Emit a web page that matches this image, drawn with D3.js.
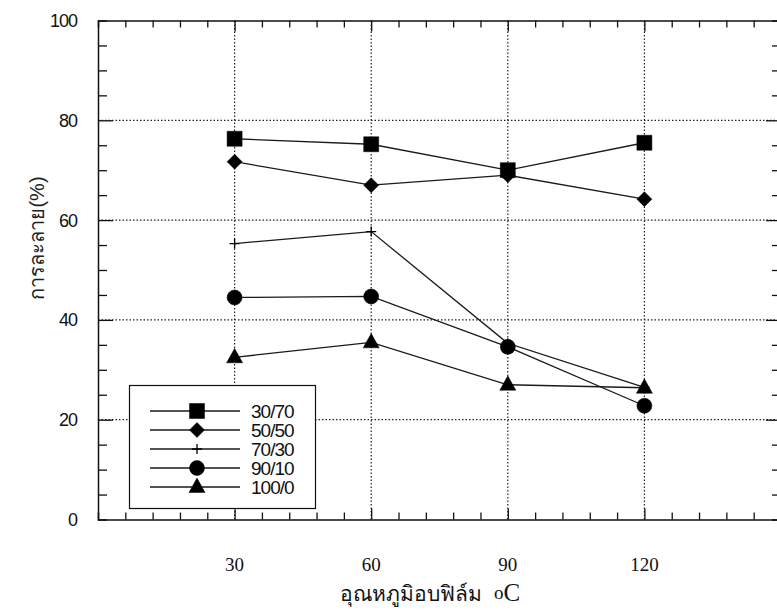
<!DOCTYPE html>
<html>
<head>
<meta charset="utf-8">
<script src="https://cdn.jsdelivr.net/npm/d3@7"></script>
<style>
  html, body { margin: 0; padding: 0; background: #fff; }
  svg { display: block; }
</style>
</head>
<body>
<svg id="chart" width="777" height="611"></svg>
<script>
// Dissolution (%) of films dried at different temperatures, one series per blend ratio
const temps = [30, 60, 90, 120];
const seriesNames = ["30/70", "50/50", "70/30", "90/10", "100/0"];
const s3070 = [76.3, 75.2, 70.0, 75.5];
const s5050 = [71.7, 67.0, 69.0, 64.2];
const s7030 = [55.3, 57.7, 35.3, 26.5];
const s9010 = [44.5, 44.7, 34.6, 22.8];
const s1000 = [32.5, 35.5, 27.0, 26.4];
const xTicks = [30, 60, 90, 120];
const yTicks = [0, 20, 40, 60, 80, 100];
const xTitle = "อุณหภูมิอบฟิล์ม";
const xUnit = "oC";
const yTitle = "การละลาย(%)";

const seriesValues = [s3070, s5050, s7030, s9010, s1000];

const svg = d3.select("#chart");
const x = d3.scaleLinear().domain([0, 150]).range([98, 781]);
const y = d3.scaleLinear().domain([0, 100]).range([519.5, 20.5]);
const [x0, x1] = x.range();
const [y0, y1] = y.range();

// Custom marker shapes (size = full width in px)
const shapes = {
  square: { draw(c, s) { const h = s / 2; c.rect(-h, -h, s, s); } },
  diamond: { draw(c, s) { const h = s / 2; c.moveTo(0, -h); c.lineTo(h, 0); c.lineTo(0, h); c.lineTo(-h, 0); c.closePath(); } },
  plus: { draw(c, s) { const h = s / 2; c.moveTo(-h, 0); c.lineTo(h, 0); c.moveTo(0, -h); c.lineTo(0, h); } },
  circle: { draw(c, s) { const r = s / 2; c.moveTo(r, 0); c.arc(0, 0, r, 0, 2 * Math.PI); } },
  triangle: { draw(c, s) { const h = s / 2; const t = s * 0.9; c.moveTo(0, -t * 0.62); c.lineTo(h, t * 0.38); c.lineTo(-h, t * 0.38); c.closePath(); } }
};
const markerTypes = ["square", "diamond", "plus", "circle", "triangle"];
const markerSizes = [15, 15, 10, 15, 16];

// Dotted grid at major ticks
const grid = svg.append("g").attr("stroke", "#222").attr("stroke-width", 1.2)
  .attr("stroke-dasharray", "1.5,2");
grid.selectAll("line.v").data(xTicks).join("line")
  .attr("class", "v")
  .attr("x1", d => x(d)).attr("x2", d => x(d)).attr("y1", y0).attr("y2", y1);
grid.selectAll("line.h").data(yTicks.filter(d => d > 0 && d < 100)).join("line")
  .attr("class", "h")
  .attr("x1", x0).attr("x2", x1).attr("y1", d => y(d)).attr("y2", d => y(d));

// Axes: frame with inward ticks on all four sides
const axisColor = "#111";
const xMinor = d3.range(6, 150, 6);
const yMinor = d3.range(5, 100, 5);
const isMajorX = d => d % 30 === 0;
const isMajorY = d => d % 20 === 0;

const axBottom = svg.append("g").attr("transform", `translate(0,${y0})`)
  .call(d3.axisBottom(x).tickValues(xMinor).tickSize(-7).tickFormat(""));
axBottom.selectAll(".tick line").attr("y2", d => isMajorX(d) ? -11 : -7);
const axTop = svg.append("g").attr("transform", `translate(0,${y1})`)
  .call(d3.axisTop(x).tickValues(xMinor).tickSize(-7).tickFormat(""));
axTop.selectAll(".tick line").attr("y2", d => isMajorX(d) ? 11 : 7);
const axLeft = svg.append("g").attr("transform", `translate(${x0},0)`)
  .call(d3.axisLeft(y).tickValues(yMinor).tickSize(-9).tickFormat(""));
axLeft.selectAll(".tick line").attr("x2", d => isMajorY(d) ? 15 : 9);
const axRight = svg.append("g").attr("transform", `translate(${x1},0)`)
  .call(d3.axisRight(y).tickValues(yMinor).tickSize(-9).tickFormat(""));
axRight.selectAll(".tick line").attr("x2", d => isMajorY(d) ? -15 : -9);
[axBottom, axTop, axLeft, axRight].forEach(g => {
  g.select(".domain").attr("stroke", axisColor).attr("stroke-width", 1.5);
  g.selectAll(".tick line").attr("stroke", axisColor).attr("stroke-width", 1.3);
});

// Tick labels
svg.append("g").selectAll("text").data(yTicks).join("text")
  .attr("x", 77).attr("y", d => y(d)).attr("dy", "0.36em")
  .attr("text-anchor", "end")
  .attr("font-family", "'Liberation Sans', Arial, sans-serif")
  .attr("font-size", 18).attr("letter-spacing", -1).attr("fill", "#111")
  .text(d => d);
svg.append("g").selectAll("text").data(xTicks).join("text")
  .attr("x", d => x(d)).attr("y", 571)
  .attr("text-anchor", "middle")
  .attr("font-family", "'Liberation Serif', 'Times New Roman', serif")
  .attr("font-size", 19).attr("fill", "#111")
  .text(d => d);

// Axis titles
const xt = svg.append("text").attr("x", 430).attr("y", 601)
  .attr("text-anchor", "middle")
  .attr("font-family", "'Liberation Serif', 'Times New Roman', serif")
  .attr("font-size", 21).attr("fill", "#111");
xt.append("tspan").text(xTitle);
xt.append("tspan").attr("dx", 12).attr("dy", -2).attr("font-size", 19).text(xUnit[0]);
xt.append("tspan").attr("dy", 2).attr("font-size", 25).text(xUnit.slice(1));

svg.append("text")
  .attr("transform", "translate(44,238) rotate(-90)")
  .attr("text-anchor", "middle")
  .attr("font-family", "'Liberation Sans', Arial, sans-serif")
  .attr("font-size", 20).attr("fill", "#222")
  .text(yTitle);

// Series lines and markers
const line = d3.line().x((d, i) => x(temps[i])).y(d => y(d));
const plot = svg.append("g");
seriesValues.forEach((vals, k) => {
  const g = plot.append("g");
  g.append("path").datum(vals).attr("d", line)
    .attr("fill", "none").attr("stroke", "#1a1a1a").attr("stroke-width", 1.3);
  const sym = d3.symbol().type(shapes[markerTypes[k]]).size(markerSizes[k]);
  g.selectAll("path.m").data(vals).join("path").attr("class", "m")
    .attr("transform", (d, i) => `translate(${x(temps[i])},${y(d)})`)
    .attr("d", sym)
    .attr("fill", markerTypes[k] === "plus" ? "none" : "#000")
    .attr("stroke", "#000").attr("stroke-width", markerTypes[k] === "plus" ? 1.3 : 0.5);
});

// Legend
const lg = svg.append("g");
lg.append("rect").attr("x", 129.5).attr("y", 385.5).attr("width", 186).attr("height", 123)
  .attr("fill", "#fff").attr("stroke", "#111").attr("stroke-width", 1.2);
const rowY = d3.scalePoint().domain(seriesNames).range([411, 487]);
seriesNames.forEach((name, k) => {
  const yy = rowY(name);
  lg.append("line").attr("x1", 150).attr("x2", 240).attr("y1", yy).attr("y2", yy)
    .attr("stroke", "#1a1a1a").attr("stroke-width", 1.3);
  lg.append("path")
    .attr("transform", `translate(197,${yy})`)
    .attr("d", d3.symbol().type(shapes[markerTypes[k]]).size(markerSizes[k]))
    .attr("fill", markerTypes[k] === "plus" ? "none" : "#000")
    .attr("stroke", "#000").attr("stroke-width", markerTypes[k] === "plus" ? 1.3 : 0.5);
  lg.append("text").attr("x", 251).attr("y", yy).attr("dy", "0.36em")
    .attr("font-family", "'Liberation Sans', Arial, sans-serif")
    .attr("font-size", 19).attr("letter-spacing", -1).attr("fill", "#111")
    .text(name);
});
</script>
</body>
</html>
